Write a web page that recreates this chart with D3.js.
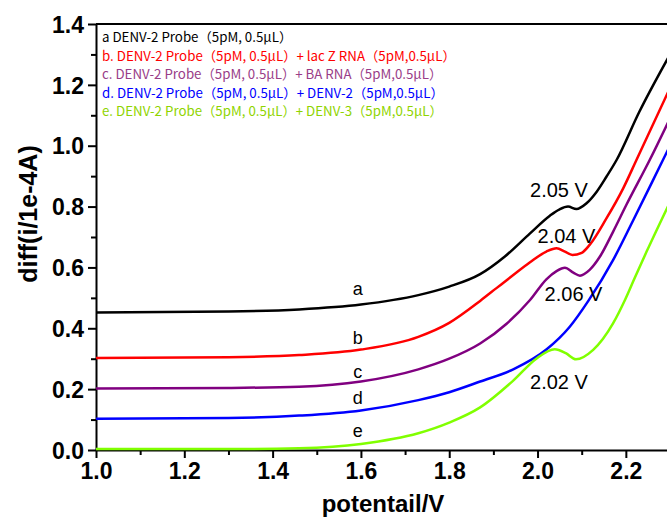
<!DOCTYPE html>
<html>
<head>
<meta charset="utf-8">
<script src="https://cdn.jsdelivr.net/npm/d3@7"></script>
<style>
  body { margin: 0; background: #fff; }
  svg { display: block; }
  .axis path, .axis line { stroke: #000; stroke-width: 2; }
  .axis text { font: bold 23px "Liberation Sans", Arial, sans-serif; fill: #000; }
</style>
</head>
<body>
<script>
// potential (V) and diff current (1e-4 A), one pair of arrays per curve
const aV = [1.0, 1.3, 1.46, 1.6, 1.73, 1.8, 1.87, 1.926, 1.983, 2.028, 2.05, 2.069, 2.088, 2.111, 2.134, 2.156, 2.179, 2.23, 2.3]
const aI = [0.452, 0.455, 0.462, 0.478, 0.509, 0.537, 0.578, 0.636, 0.712, 0.77, 0.791, 0.80, 0.792, 0.811, 0.849, 0.898, 0.953, 1.11, 1.30]

const bV = [1.0, 1.3, 1.46, 1.6, 1.73, 1.8, 1.87, 1.907, 1.945, 1.983, 2.02, 2.043, 2.062, 2.079, 2.1, 2.118, 2.156, 2.194, 2.224, 2.3]
const bI = [0.302, 0.305, 0.312, 0.33, 0.372, 0.418, 0.49, 0.532, 0.575, 0.617, 0.652, 0.663, 0.652, 0.641, 0.648, 0.674, 0.761, 0.86, 0.953, 1.19]

const cV = [1.0, 1.3, 1.46, 1.6, 1.73, 1.8, 1.87, 1.93, 1.983, 2.02, 2.043, 2.062, 2.081, 2.096, 2.118, 2.141, 2.171, 2.201, 2.254, 2.3]
const cI = [0.202, 0.204, 0.208, 0.225, 0.265, 0.30, 0.35, 0.415, 0.493, 0.561, 0.588, 0.599, 0.583, 0.573, 0.592, 0.635, 0.717, 0.805, 0.953, 1.09]

const dV = [1.0, 1.3, 1.46, 1.6, 1.73, 1.8, 1.87, 1.945, 2.02, 2.073, 2.115, 2.171, 2.217, 2.284, 2.3]
const dI = [0.103, 0.105, 0.113, 0.13, 0.164, 0.19, 0.225, 0.265, 0.33, 0.405, 0.49, 0.624, 0.756, 0.953, 1.0]

const eV = [1.0, 1.3, 1.46, 1.6, 1.73, 1.8, 1.87, 1.945, 1.998, 2.039, 2.064, 2.087, 2.126, 2.171, 2.198, 2.22, 2.247, 2.3]
const eI = [0.003, 0.003, 0.006, 0.02, 0.055, 0.09, 0.14, 0.228, 0.301, 0.331, 0.318, 0.298, 0.329, 0.416, 0.493, 0.565, 0.652, 0.815]

const curveIds = ['a', 'b', 'c', 'd', 'e']
const curveColors = ['#000000', '#ff0000', '#800080', '#0000ff', '#80ff00']
const legendColors = ['#000000', '#ff0000', '#993d88', '#0000ff', '#8fd400']
const legendTexts = [
  'a DENV-2 Probe（5pM, 0.5μL）',
  'b. DENV-2 Probe（5pM, 0.5μL）+ lac Z RNA（5pM,0.5μL）',
  'c. DENV-2 Probe（5pM, 0.5μL）+ BA RNA（5pM,0.5μL）',
  'd. DENV-2 Probe（5pM, 0.5μL）+ DENV-2（5pM,0.5μL）',
  'e. DENV-2 Probe（5pM, 0.5μL）+ DENV-3（5pM,0.5μL）'
]
// letter labels sit next to each curve at these potential / current values
const letterV = [1.593, 1.593, 1.593, 1.593, 1.593]
const letterI = [0.509, 0.347, 0.238, 0.15, 0.044]
// peak annotations
const peakTexts = ['2.05 V', '2.04 V', '2.06 V', '2.02 V']
const peakV = [1.983, 2.0, 2.016, 1.983]
const peakI = [0.83, 0.68, 0.49, 0.20]

const xTicks = [1.0, 1.2, 1.4, 1.6, 1.8, 2.0, 2.2]
const yTicks = [0.0, 0.2, 0.4, 0.6, 0.8, 1.0, 1.2, 1.4]

const series = [[aV, aI], [bV, bI], [cV, cI], [dV, dI], [eV, eI]].map((p, i) => ({
  id: curveIds[i],
  values: p[0].map((v, j) => ({v: v, i: p[1][j]}))
}))

const W = 667, H = 517
const margin = {top: 24, right: -3, bottom: 67, left: 96}
const width = W - margin.left - margin.right
const height = H - margin.top - margin.bottom

const svg = d3.select('body').append('svg')
  .attr('width', W)
  .attr('height', H)

const g = svg.append('g').attr('transform', `translate(${margin.left},${margin.top})`)

const x = d3.scaleLinear().domain([1.0, 2.3]).range([0, width])
const y = d3.scaleLinear().domain([0, 1.4]).range([height, 0])

// minor ticks first
g.append('g')
  .attr('class', 'axis')
  .attr('transform', `translate(0,${height})`)
  .call(d3.axisBottom(x).tickValues(d3.range(1.1, 2.3, 0.2)).tickSize(5).tickFormat(''))
  .select('.domain').remove()
g.append('g')
  .attr('class', 'axis')
  .call(d3.axisLeft(y).tickValues(d3.range(0.1, 1.4, 0.2)).tickSize(5).tickFormat(''))
  .select('.domain').remove()

g.append('g')
  .attr('class', 'axis')
  .attr('transform', `translate(0,${height})`)
  .call(d3.axisBottom(x).tickValues(xTicks).tickSize(8).tickSizeOuter(0).tickPadding(5).tickFormat(d3.format('.1f')))

g.append('g')
  .attr('class', 'axis')
  .call(d3.axisLeft(y).tickValues(yTicks).tickSize(8).tickSizeOuter(0).tickPadding(4).tickFormat(d3.format('.1f')))
  .selectAll('text').attr('dy', '0.36em')

// top frame line
g.append('line')
  .attr('x1', 0).attr('x2', width)
  .attr('y1', 0).attr('y2', 0)
  .attr('stroke', '#000').attr('stroke-width', 2)

const line = d3.line()
  .curve(d3.curveMonotoneX)
  .x(d => x(d.v))
  .y(d => y(d.i))

g.selectAll('.curve')
  .data(series)
  .enter().append('path')
  .attr('class', 'curve')
  .attr('d', d => line(d.values))
  .attr('fill', 'none')
  .attr('stroke', (d, i) => curveColors[i])
  .attr('stroke-width', 2.5)

g.selectAll('.letter')
  .data(curveIds)
  .enter().append('text')
  .attr('class', 'letter')
  .attr('x', (d, i) => x(letterV[i]))
  .attr('y', (d, i) => y(letterI[i]))
  .attr('text-anchor', 'middle')
  .style('font', '18px "Liberation Sans", Arial, sans-serif')
  .text(d => d)

g.selectAll('.peak')
  .data(peakTexts)
  .enter().append('text')
  .attr('class', 'peak')
  .attr('x', (d, i) => x(peakV[i]))
  .attr('y', (d, i) => y(peakI[i]))
  .style('font', '20px "Liberation Sans", Arial, sans-serif')
  .text(d => d)

g.selectAll('.legend')
  .data(legendTexts)
  .enter().append('text')
  .attr('class', 'legend')
  .attr('x', 6)
  .attr('y', (d, i) => 18 + i * 18.6)
  .attr('fill', (d, i) => legendColors[i])
  .style('font', '13.3px "Noto Sans CJK SC", sans-serif')
  .text(d => d)

svg.append('text')
  .attr('x', margin.left + (670 - margin.left) / 2)
  .attr('y', 512)
  .attr('text-anchor', 'middle')
  .style('font', 'bold 24px "Liberation Sans", Arial, sans-serif')
  .text('potentail/V')

svg.append('text')
  .attr('transform', 'translate(37,214) rotate(-90)')
  .attr('text-anchor', 'middle')
  .style('font', 'bold 25px "Liberation Sans", Arial, sans-serif')
  .text('diff(i/1e-4A)')
</script>
</body>
</html>
